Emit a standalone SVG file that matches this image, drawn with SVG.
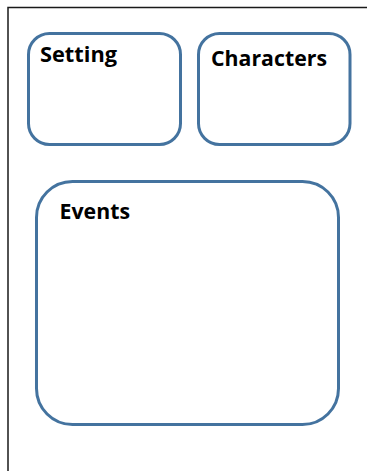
<svg xmlns="http://www.w3.org/2000/svg" width="367" height="471" viewBox="0 0 367 471">
<style>
.box{fill:#fff;stroke:#44739f;stroke-width:3}
.lbl{font-family:"Open Sans","Liberation Sans",Arial,sans-serif;font-weight:bold;font-size:21px;fill:#000}
.frame{fill:none;stroke:#1a1a1a;stroke-width:1.5}
</style>
<rect width="367" height="471" fill="#fff"/>
<path class="frame" d="M8 471 V7.5 H367"/>
<g id="setting">
<rect class="box" x="28.5" y="33.5" width="152" height="111" rx="21"/>
<text class="lbl" x="40" y="62" textLength="77" lengthAdjust="spacingAndGlyphs">Setting</text>
</g>
<g id="characters">
<rect class="box" x="198.5" y="33.5" width="151.5" height="111" rx="21"/>
<text class="lbl" x="211" y="66" textLength="116" lengthAdjust="spacingAndGlyphs">Characters</text>
</g>
<g id="events">
<rect class="box" x="36.5" y="181.5" width="302" height="243" rx="36"/>
<text class="lbl" x="59.5" y="219" textLength="70.5" lengthAdjust="spacingAndGlyphs">Events</text>
</g>
<g id="connectors"/>
</svg>
